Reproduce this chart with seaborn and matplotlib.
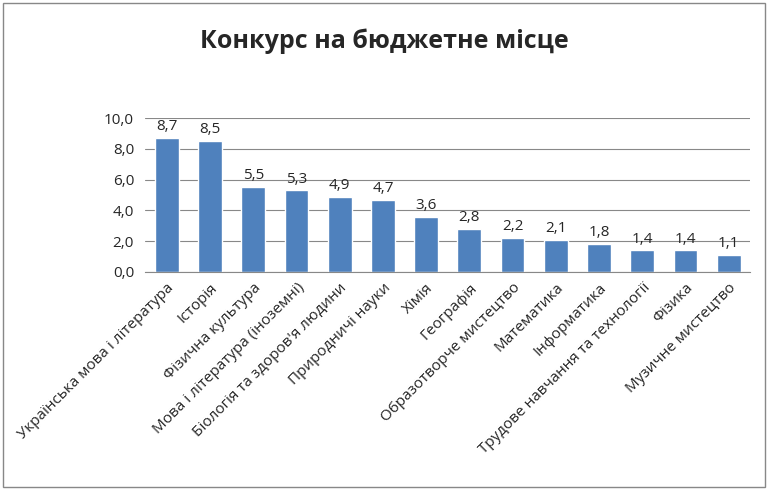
import matplotlib
matplotlib.use("Agg")
import matplotlib.pyplot as plt
import seaborn as sns
import pandas as pd

subjects = ["Українська мова і література", "Історія", "Фізична культура",
            "Мова і література (іноземні)", "Біологія та здоров'я людини",
            "Природничі науки", "Хімія", "Географія", "Образотворче мистецтво",
            "Математика", "Інформатика", "Трудове навчання та технології",
            "Фізика", "Музичне мистецтво"]
values = [8.7, 8.5, 5.5, 5.3, 4.9, 4.7, 3.6, 2.8, 2.2, 2.1, 1.8, 1.4, 1.4, 1.1]
y_ticks = [0, 2, 4, 6, 8, 10]

df = pd.DataFrame({"subject": subjects, "value": values})

sns.set_style("white")
plt.rcParams['font.family'] = ['Open Sans', 'DejaVu Sans']

fig = plt.figure(figsize=(7.68, 4.9), dpi=100)
ax = fig.add_axes([0.189, 0.445, 0.788, 0.314])
sns.barplot(data=df, x="subject", y="value", color="#4F81BD", width=0.55,
            saturation=1, ax=ax)

ax.set_ylim(0, 10)
ax.set_yticks(y_ticks)
ax.set_yticklabels([f"{t:.1f}".replace(".", ",") for t in y_ticks], fontsize=11)
ax.yaxis.grid(True, color="#888888", linewidth=0.8)
ax.set_axisbelow(True)
ax.set_xlabel("")
ax.set_ylabel("")
for s in ["top", "right", "left"]:
    ax.spines[s].set_visible(False)
ax.spines["bottom"].set_color("#888888")
ax.tick_params(axis="y", length=0, pad=8)
ax.set_xticks(range(len(subjects)))
ax.set_xticklabels(subjects, rotation=45, ha="right", rotation_mode="anchor", fontsize=11)
ax.tick_params(axis="x", length=0, pad=6)

for i, v in enumerate(values):
    ax.text(i, v + 0.25, f"{v:.1f}".replace(".", ","), ha="center", va="bottom", fontsize=11)

fig.text(0.5, 0.915, "Конкурс на бюджетне місце", ha="center", va="center",
         fontsize=18, fontweight="bold")

fig.patches.append(plt.Rectangle((0.004, 0.006), 0.992, 0.988, transform=fig.transFigure,
                                 fill=False, edgecolor="#888888", linewidth=1))

fig.savefig("out.png", dpi=100)
